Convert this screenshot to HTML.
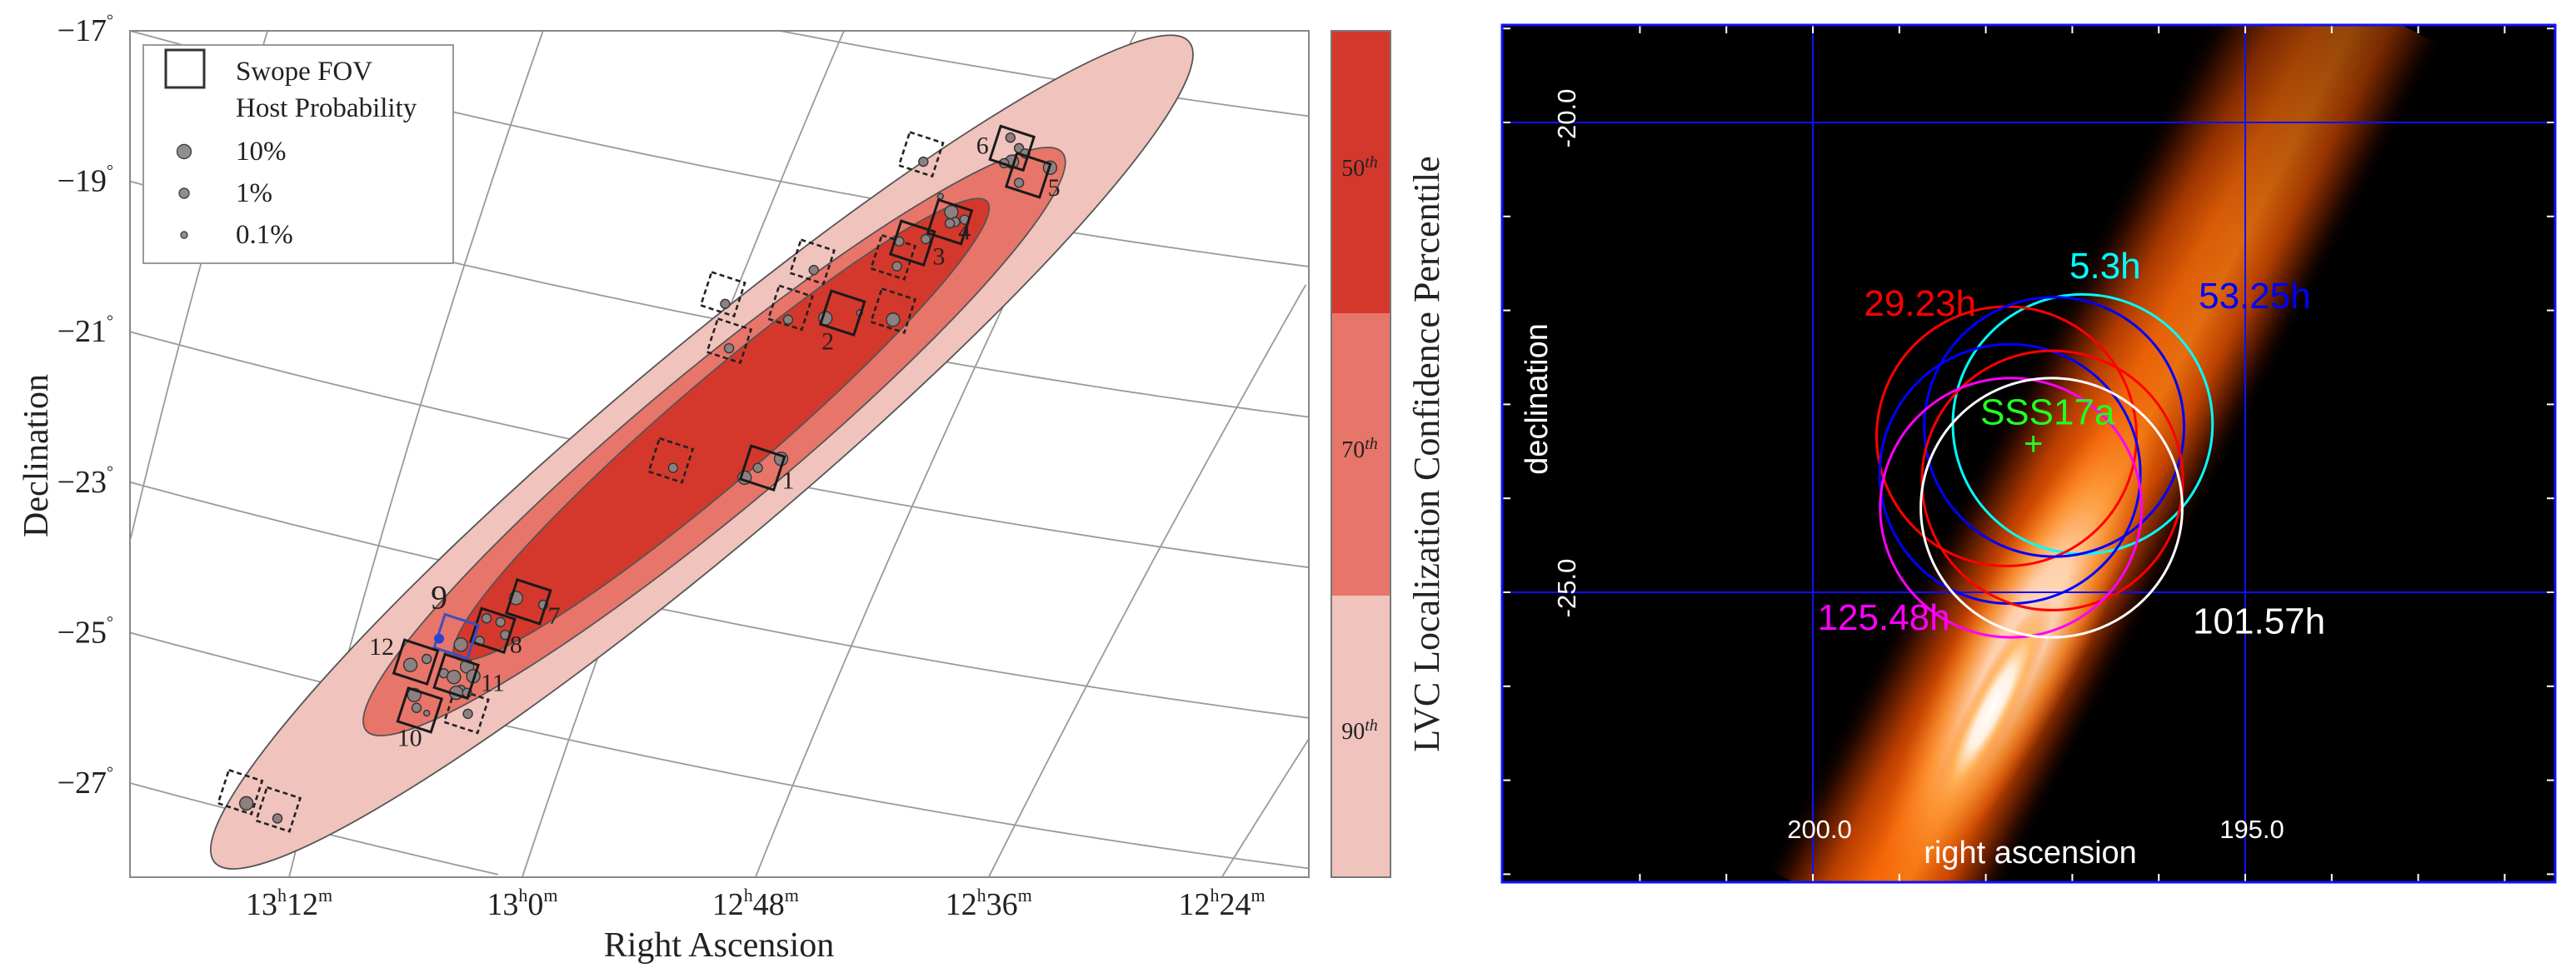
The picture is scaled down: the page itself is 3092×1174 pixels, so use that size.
<!DOCTYPE html>
<html><head><meta charset="utf-8"><style>
html,body{margin:0;padding:0;background:#fff;width:3092px;height:1174px;overflow:hidden;}
svg{display:block;}
.serif{font-family:"Liberation Serif",serif;fill:#222;}
.sans{font-family:"Liberation Sans",sans-serif;}
</style></head>
<body>
<svg id="fig" width="3092" height="1174" viewBox="0 0 3092 1174" xmlns="http://www.w3.org/2000/svg">
<defs>
  <clipPath id="clipL"><rect x="156" y="37" width="1415" height="1016"/></clipPath>
  <clipPath id="clipR"><rect x="1803" y="30" width="1264" height="1029"/></clipPath>
  <linearGradient id="bandGrad" x1="0" y1="0" x2="0" y2="1">
    <stop offset="0" stop-color="#000" stop-opacity="0"/>
    <stop offset="0.12" stop-color="#3a0e00"/>
    <stop offset="0.28" stop-color="#c04000"/>
    <stop offset="0.45" stop-color="#ff6a08"/>
    <stop offset="0.6" stop-color="#ff7a10"/>
    <stop offset="0.75" stop-color="#d04800"/>
    <stop offset="0.9" stop-color="#3a0e00"/>
    <stop offset="1" stop-color="#000" stop-opacity="0"/>
  </linearGradient>
  <linearGradient id="bandFade" x1="0" y1="0" x2="1" y2="0">
    <stop offset="0" stop-color="#000" stop-opacity="0.05"/>
    <stop offset="0.4" stop-color="#000" stop-opacity="0"/>
    <stop offset="0.75" stop-color="#000" stop-opacity="0.15"/>
    <stop offset="1" stop-color="#000" stop-opacity="0.45"/>
  </linearGradient>
  <radialGradient id="coreGrad">
    <stop offset="0" stop-color="#ffffff"/>
    <stop offset="0.35" stop-color="#fff0e0"/>
    <stop offset="0.65" stop-color="#ffb050" stop-opacity="0.8"/>
    <stop offset="1" stop-color="#ff8020" stop-opacity="0"/>
  </radialGradient>
</defs>
<rect x="0" y="0" width="3092" height="1174" fill="#fff"/>
<g id="left"></g>
<g id="cbar"></g>
<g id="right"></g>
</svg>
<script>
// ---------------- LEFT PANEL DATA ----------------
const decTicks = [-17, -19, -21, -23, -25, -27];
const raTickVals = [198, 195, 192, 189, 186];
const raTickLabels = [["13","12"],["13","0"],["12","48"],["12","36"],["12","24"]];
const decGridVals = [-15, -17, -19, -21, -23, -25, -27];
const raGridVals = [201, 198, 195, 192, 189, 186, 183];
const raGridLean = [0.25, 0.3, 0.38, 0.45, 0.55, 0.67, 0.8];
const contourNames = ["90th", "70th", "50th"];
const contourRa = [192.69, 192.53, 192.44];
const contourDec = [-22.60, -22.46, -22.30];
const contourA = [8.42, 5.98, 4.63];
const contourB = [1.27, 0.94, 0.66];
const contourAng = [-40.1, -39.7, -40.6];
const contourColors = ["#f0c3bd", "#e8756a", "#d4382c"];
const fieldNum = [1,2,3,4,5,6,7,8,9,10,11,12];
const fieldRa = [191.91,190.88,189.98,189.50,188.49,188.70,194.92,195.38,195.85,196.32,195.85,196.37];
const fieldDec = [-22.81,-20.75,-19.82,-19.54,-18.92,-18.56,-24.59,-24.97,-25.05,-26.03,-25.58,-25.39];
const fieldLabRa = [191.58,191.07,189.64,189.31,188.16,189.08,194.59,195.08,196.07,196.45,195.38,196.81];
const fieldLabDec = [-22.98,-21.13,-20.00,-19.67,-19.09,-18.53,-24.78,-25.16,-24.53,-26.40,-25.67,-25.19];
const planRa = [189.87,191.27,190.23,191.55,190.23,192.42,192.34,193.09,195.72,198.63,198.14];
const planDec = [-18.64,-20.07,-20.01,-20.68,-20.72,-20.50,-21.12,-22.71,-26.04,-27.12,-27.35];
const galRa = [188.72,188.61,188.53,188.70,188.80,188.21,188.61,189.62,189.48,189.43,189.50,189.31,189.81,190.15,190.18,191.25,189.84,192.39,191.58,191.10,190.66,190.23,192.34,193.06,191.67,191.97,192.14,195.08,194.73,195.46,195.28,195.22,195.55,195.79,196.23,196.44,196.01,195.71,195.88,195.63,195.79,195.85,195.71,196.39,196.36,196.23,195.70,198.55,198.15];
const galDec = [-18.42,-18.56,-18.63,-18.74,-18.76,-18.82,-19.02,-19.20,-19.41,-19.54,-19.56,-19.51,-19.77,-19.80,-20.13,-20.18,-18.74,-20.63,-20.84,-20.82,-20.75,-20.84,-21.22,-22.81,-22.69,-22.81,-22.94,-24.54,-24.63,-24.81,-24.86,-25.03,-25.11,-25.16,-25.35,-25.43,-25.54,-25.45,-25.59,-25.58,-25.76,-25.80,-25.80,-25.83,-26.00,-26.07,-26.08,-27.27,-27.47];
const galCls = [1,1,1,2,1,2,1,0,2,1,1,1,1,1,1,1,1,1,1,2,0,2,1,1,2,1,2,2,1,1,1,1,1,2,1,2,1,2,2,2,1,2,1,2,1,0,1,2,1];
const blueRa = [196.07], blueDec = [-25.08];
const legendLabels = ["Swope FOV","Host Probability","10%","1%","0.1%"];
const cbarEdges = [37, 376, 715, 1053];
const cbarLabels = ["50","70","90"];

// ---------------- RIGHT PANEL DATA ----------------
const circLabels = ["5.3h","29.23h","53.25h","53.25h-b","29.23h-b","125.48h","101.57h"];
const circRa = [196.88,197.76,197.21,197.72,197.23,197.71,197.24];
const circDec = [-23.21,-23.34,-23.24,-23.74,-23.81,-24.10,-24.10];
const circColors = ["#00ffff","#ff0000","#0000ff","#0000ff","#ff0000","#ff00ff","#ffffff"];
const circRadius = 1.38;
const circTextLabels = ["5.3h","29.23h","53.25h","125.48h","101.57h"];
const circTextRa = [196.62,198.76,194.89,199.18,194.84];
const circTextDec = [-21.53,-21.93,-21.85,-25.27,-25.31];
const circTextColors = ["#00ffff","#ff0000","#0000ff","#ff00ff","#ffffff"];
const srcRa = [197.45], srcDec = [-23.42];
const bandStart = [199.30, -28.08], bandEnd = [194.14, -18.96];
const rTickRa = [202,201,200,199,198,197,196,195,194,193,192];
const rTickDec = [-19,-20,-21,-22,-23,-24,-25,-26,-27,-28];
const rGridRa = [200, 195];
const rGridDec = [-20, -25];

const NS = "http://www.w3.org/2000/svg";
function mk(tag, attrs, parent){ const e=document.createElementNS(NS,tag); for(const k in attrs) e.setAttribute(k,attrs[k]); if(parent) parent.appendChild(e); return e; }

const sx = ra => 347 + (198 - ra) * 93.3;
const sy = dec => 37 + (-17 - dec) * 90.3;
const PXU = 90.8;
const AX0 = 156, AX1 = 1571, AY0 = 37, AY1 = 1053;

// sample a quadratic curve, keep only the part inside the axes box
function clippedQuad(p0, p1, p2){
  const pts = [];
  for(let i=0;i<=80;i++){
    const s=i/80, a=(1-s)*(1-s), b=2*(1-s)*s, c=s*s;
    const x=a*p0[0]+b*p1[0]+c*p2[0], y=a*p0[1]+b*p1[1]+c*p2[1];
    if(x>=AX0-0.5 && x<=AX1+0.5 && y>=AY0-0.5 && y<=AY1+0.5) pts.push(x.toFixed(1)+','+y.toFixed(1));
  }
  return pts.join(' ');
}

const L = document.getElementById('left');
const gG = mk('g', {}, L);


decGridVals.forEach(d=>{
  const y0 = sy(d);
  const pts = clippedQuad([156,y0],[863,y0+191],[1571,y0+283]);
  if(!pts) return;
  const p = mk('polyline', {points:pts, fill:'none', stroke:'#9a9a9a', 'stroke-width':1.8}, gG);
  
  
});
raGridVals.forEach((r,i)=>{
  const xb = sx(r), lean = raGridLean[i];
  const xt = xb + lean*1016;
  const pts = clippedQuad([xb,1053],[(xb+xt)/2-25,545],[xt,37]);
  if(!pts) return;
  const p = mk('polyline', {points:pts, fill:'none', stroke:'#9a9a9a', 'stroke-width':1.8}, gG);
  
  
});
const cG = mk('g', {'clip-path':'url(#clipL)'}, L);
contourNames.forEach((n,i)=>{
  const e = mk('ellipse', {cx:0, cy:0, rx:contourA[i]*PXU, ry:contourB[i]*PXU, fill:contourColors[i], stroke:'#555', 'stroke-width':1.8,
    transform:`translate(${sx(contourRa[i])} ${sy(contourDec[i])}) rotate(${contourAng[i]})`}, cG);
  
  
});
planRa.forEach((r,i)=>{
  const q = mk('rect', {x:-21, y:-21, width:42, height:42, fill:'none', stroke:'#222', 'stroke-width':2.6, 'stroke-dasharray':'6 4',
    transform:`translate(${sx(r)} ${sy(planDec[i])}) rotate(18)`}, cG);
  
  
});
const radii = [3.5, 5.5, 8];
galRa.forEach((r,i)=>{
  const c = mk('circle', {cx:sx(r), cy:sy(galDec[i]), r:radii[galCls[i]], fill:'#8e8080', stroke:'#333', 'stroke-width':1.4}, cG);
  
  
});
fieldNum.forEach((n,i)=>{
  const blue = n===9;
  const q = mk('rect', {x:-21, y:-21, width:42, height:42, fill:'none', stroke: blue?'#3b4fc4':'#1a1a1a', 'stroke-width':3,
    transform:`translate(${sx(fieldRa[i])} ${sy(fieldDec[i])}) rotate(18)`}, cG);
  
  
  const t = mk('text', {x:sx(fieldLabRa[i]), y:sy(fieldLabDec[i]), 'text-anchor':'middle', 'dominant-baseline':'central', class:'serif', 'font-size': blue?40:30, fill: blue?'#3b4fc4':'#222'}, L);
  t.textContent = n;
  
  
});
blueRa.forEach((r,i)=>{
  const c = mk('circle', {cx:sx(r), cy:sy(blueDec[i]), r:6, fill:'#2a44d0'}, cG);
  
  
});
const fr = mk('rect', {x:156, y:37, width:1415, height:1016, fill:'none', stroke:'#888', 'stroke-width':2}, L);


decTicks.forEach(d=>{
  const t = mk('text', {x:136, y:sy(d)+12, 'text-anchor':'end', class:'serif', 'font-size':38}, L);
  t.textContent = '\u2212' + Math.abs(d);
  const s = mk('tspan', {'font-size':20, dy:-18}, t); s.textContent='\u00b0';
  
  
});
raTickVals.forEach((r,i)=>{
  const t = mk('text', {x:sx(r), y:1098, 'text-anchor':'middle', class:'serif', 'font-size':38}, L);
  const a = mk('tspan', {}, t); a.textContent = raTickLabels[i][0];
  const b = mk('tspan', {'font-size':22, dy:-16}, t); b.textContent='h';
  const c = mk('tspan', {dy:16}, t); c.textContent = raTickLabels[i][1];
  const d = mk('tspan', {'font-size':22, dy:-16}, t); d.textContent='m';
  
  
});
let t = mk('text', {x:863, y:1148, 'text-anchor':'middle', class:'serif', 'font-size':42}, L);
t.textContent='Right Ascension';
 
t = mk('text', {x:0, y:0, 'text-anchor':'middle', class:'serif', 'font-size':42, transform:'translate(57 547) rotate(-90)'}, L);
t.textContent='Declination';
 
const lg = mk('g', {}, L);
 
mk('rect', {x:172, y:54, width:372, height:262, fill:'#fff', stroke:'#999', 'stroke-width':2}, lg);
mk('rect', {x:199, y:60, width:46, height:45, fill:'none', stroke:'#333', 'stroke-width':3}, lg);
const legY = [96, 140, 192, 242, 292];
legendLabels.forEach((s,i)=>{
  const e = mk('text', {x:283, y:legY[i], class:'serif', 'font-size':33}, lg);
  e.textContent = s;
  
  
});
[2,1,0].forEach((c,i)=>{
  mk('circle', {cx:221, cy:legY[i+2]-10, r:radii[c]+0.5, fill:'#8e8e8e', stroke:'#444', 'stroke-width':1.4}, lg);
});

// colorbar
const CB = document.getElementById('cbar');
const cbCols = ["#d4382c","#e8756a","#f0c3bd"];
const cbTextY = [201, 539, 877];
cbarLabels.forEach((s,i)=>{
  const r = mk('rect', {x:1598, y:cbarEdges[i], width:71, height:cbarEdges[i+1]-cbarEdges[i], fill:cbCols[i]}, CB);
  
  
});
cbarLabels.forEach((s,i)=>{
  const tt = mk('text', {x:1632, y:cbTextY[i]+10, 'text-anchor':'middle', class:'serif', 'font-size':28, fill:'#333'}, CB);
  tt.textContent = s;
  const sp = mk('tspan', {'font-size':20, 'font-style':'italic', dy:-10}, tt); sp.textContent='th';
  
  
});
mk('rect', {x:1598, y:37, width:71, height:1016, fill:'none', stroke:'#777', 'stroke-width':2}, CB);
t = mk('text', {x:0, y:0, 'text-anchor':'middle', class:'serif', 'font-size':44, transform:'translate(1727 545) rotate(-90)'}, CB);
t.textContent='LVC Localization Confidence Percentile';
 

// ---------------- RIGHT PANEL ----------------
const rx = ra => 2176 + (200 - ra) * 103.8;
const ry = dec => 147 + (-20 - dec) * 112.8;
const R = document.getElementById('right');
const bg = mk('rect', {x:1803, y:30, width:1264, height:1029, fill:'#000'}, R);
 
const rc = mk('g', {'clip-path':'url(#clipR)'}, R);
const bx0 = rx(bandStart[0]), by0 = ry(bandStart[1]), bx1 = rx(bandEnd[0]), by1 = ry(bandEnd[1]);
const mx = (bx0+bx1)/2, my = (by0+by1)/2;
const ang = Math.atan2(by1-by0, bx1-bx0)*180/Math.PI;
const bandG = mk('g', {transform:`translate(${mx} ${my}) rotate(${ang})`}, rc);


mk('rect', {x:-625, y:-125, width:1250, height:270, fill:'url(#bandGrad)'}, bandG);
mk('rect', {x:-625, y:-125, width:1250, height:270, fill:'url(#bandFade)'}, bandG);
mk('ellipse', {cx:-250, cy:25, rx:330, ry:75, fill:'url(#coreGrad)', opacity:0.75}, bandG);
mk('ellipse', {cx:-330, cy:30, rx:150, ry:28, fill:'url(#coreGrad)'}, bandG);
rGridRa.forEach(r=>{
  const l = mk('line', {x1:rx(r), x2:rx(r), y1:30, y2:1059, stroke:'#1010ff', 'stroke-width':2}, rc);
   
});
rGridDec.forEach(d=>{
  const l = mk('line', {x1:1803, x2:3067, y1:ry(d), y2:ry(d), stroke:'#1010ff', 'stroke-width':2}, rc);
   
});
rTickDec.forEach(d=>{
  mk('line', {x1:1803, x2:1813, y1:ry(d), y2:ry(d), stroke:'#fff', 'stroke-width':2}, rc);
  mk('line', {x1:3057, x2:3067, y1:ry(d), y2:ry(d), stroke:'#fff', 'stroke-width':2}, rc);
});
rTickRa.forEach(r=>{
  mk('line', {x1:rx(r), x2:rx(r), y1:1049, y2:1059, stroke:'#fff', 'stroke-width':2}, rc);
  mk('line', {x1:rx(r), x2:rx(r), y1:30, y2:40, stroke:'#fff', 'stroke-width':2}, rc);
});
circLabels.forEach((n,i)=>{
  const k = Math.cos(Math.abs(circDec[i])*Math.PI/180);
  const e = mk('ellipse', {cx:rx(circRa[i]), cy:ry(circDec[i]), rx:circRadius/k*103.8, ry:circRadius*112.8, fill:'none', stroke:circColors[i], 'stroke-width':3}, rc);
  
  
});
circTextLabels.forEach((s,i)=>{
  const e = mk('text', {x:rx(circTextRa[i]), y:ry(circTextDec[i]), 'text-anchor':'middle', 'dominant-baseline':'central', class:'sans', 'font-size':44, fill:circTextColors[i]}, rc);
  e.textContent = s;
  
  
});
srcRa.forEach((r,i)=>{
  const e = mk('text', {x:rx(r)+17, y:ry(srcDec[i])-38, 'text-anchor':'middle', 'dominant-baseline':'central', class:'sans', 'font-size':44, fill:'#22ff22'}, rc);
  e.textContent='SSS17a';
   
  const p = mk('text', {x:rx(r), y:ry(srcDec[i]), 'text-anchor':'middle', 'dominant-baseline':'central', class:'sans', 'font-size':40, fill:'#22ff22'}, rc);
  p.textContent='+';
   
});
rGridRa.forEach(r=>{
  const e = mk('text', {x:rx(r)+8, y:1006, 'text-anchor':'middle', class:'sans', 'font-size':31, fill:'#fff'}, R);
  e.textContent = r.toFixed(1);
   
});
rGridDec.forEach(d=>{
  const e = mk('text', {x:0, y:0, 'text-anchor':'middle', class:'sans', 'font-size':31, fill:'#fff', transform:`translate(1891 ${ry(d)-5}) rotate(-90)`}, R);
  e.textContent = d.toFixed(1);
   
});
t = mk('text', {x:2437, y:1036, 'text-anchor':'middle', class:'sans', 'font-size':38, fill:'#fff'}, R);
t.textContent='right ascension';
 
t = mk('text', {x:0, y:0, 'text-anchor':'middle', class:'sans', 'font-size':38, fill:'#fff', transform:'translate(1857 479) rotate(-90)'}, R);
t.textContent='declination';
 
const rf = mk('rect', {x:1803, y:30, width:1264, height:1029, fill:'none', stroke:'#1010ff', 'stroke-width':3}, R);
 
</script>
</body></html>
